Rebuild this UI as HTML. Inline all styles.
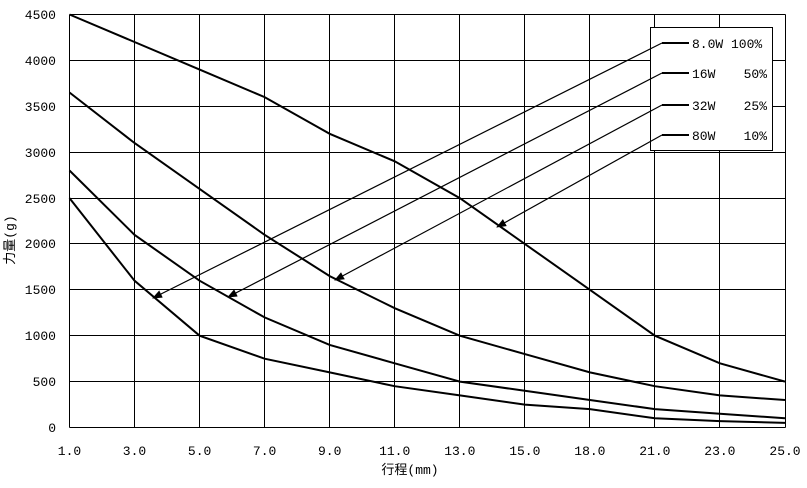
<!DOCTYPE html>
<html><head><meta charset="utf-8"><style>body{margin:0;background:#fff}svg{display:block}</style></head><body>
<svg width="807" height="488" xmlns="http://www.w3.org/2000/svg" font-family="Liberation Mono, 'Noto Sans CJK SC', monospace" font-size="13">
<defs><marker id="ah" markerWidth="10" markerHeight="8" refX="9" refY="4" orient="auto" markerUnits="userSpaceOnUse"><path d="M0,0 L10,4 L0,8 z" fill="#000"/></marker></defs>
<g stroke="#000" stroke-width="1" fill="none">
<line x1="69.5" y1="14.5" x2="69.5" y2="427.5"/><line x1="134.5" y1="14.5" x2="134.5" y2="427.5"/><line x1="199.5" y1="14.5" x2="199.5" y2="427.5"/><line x1="264.5" y1="14.5" x2="264.5" y2="427.5"/><line x1="329.5" y1="14.5" x2="329.5" y2="427.5"/><line x1="394.5" y1="14.5" x2="394.5" y2="427.5"/><line x1="459.5" y1="14.5" x2="459.5" y2="427.5"/><line x1="524.5" y1="14.5" x2="524.5" y2="427.5"/><line x1="589.5" y1="14.5" x2="589.5" y2="427.5"/><line x1="654.5" y1="14.5" x2="654.5" y2="427.5"/><line x1="719.5" y1="14.5" x2="719.5" y2="427.5"/><line x1="785.5" y1="14.5" x2="785.5" y2="427.5"/>
<line x1="69.5" y1="427.5" x2="785.5" y2="427.5"/><line x1="69.5" y1="381.5" x2="785.5" y2="381.5"/><line x1="69.5" y1="335.5" x2="785.5" y2="335.5"/><line x1="69.5" y1="289.5" x2="785.5" y2="289.5"/><line x1="69.5" y1="243.5" x2="785.5" y2="243.5"/><line x1="69.5" y1="198.5" x2="785.5" y2="198.5"/><line x1="69.5" y1="152.5" x2="785.5" y2="152.5"/><line x1="69.5" y1="106.5" x2="785.5" y2="106.5"/><line x1="69.5" y1="60.5" x2="785.5" y2="60.5"/><line x1="69.5" y1="14.5" x2="785.5" y2="14.5"/>
</g>
<g fill="#000" text-anchor="middle">
<text x="69.5" y="455">1.0</text><text x="134.5" y="455">3.0</text><text x="199.6" y="455">5.0</text><text x="264.6" y="455">7.0</text><text x="329.7" y="455">9.0</text><text x="394.7" y="455">11.0</text><text x="459.8" y="455">13.0</text><text x="524.8" y="455">15.0</text><text x="589.9" y="455">18.0</text><text x="654.9" y="455">21.0</text><text x="719.9" y="455">23.0</text><text x="785" y="455">25.0</text>
</g>
<g fill="#000" text-anchor="end">
<text x="56" y="432">0</text><text x="56" y="386">500</text><text x="56" y="340">1000</text><text x="56" y="294">1500</text><text x="56" y="248">2000</text><text x="56" y="203">2500</text><text x="56" y="157">3000</text><text x="56" y="111">3500</text><text x="56" y="65">4000</text><text x="56" y="19">4500</text>
</g>
<g stroke="#000" stroke-width="2" fill="none">
<polyline points="69.5,14.5 134.5,42.0 199.6,69.6 264.6,97.1 329.7,133.8 394.7,161.3 459.8,198.1 524.8,243.9 589.9,289.8 654.9,335.7 719.9,363.3 785,381.6"/>
<polyline points="69.5,92.5 134.5,143.0 199.6,188.9 264.6,234.8 329.7,276.1 394.7,308.2 459.8,335.7 524.8,354.1 589.9,372.4 654.9,386.2 719.9,395.4 785,400.0"/>
<polyline points="69.5,170.5 134.5,234.8 199.6,280.7 264.6,317.4 329.7,344.9 394.7,363.3 459.8,381.6 524.8,390.8 589.9,400.0 654.9,409.1 719.9,413.7 785,418.3"/>
<polyline points="69.5,198.1 134.5,280.7 199.6,335.7 264.6,358.7 329.7,372.4 394.7,386.2 459.8,395.4 524.8,404.6 589.9,409.1 654.9,418.3 719.9,421.1 785,422.9"/>
</g>
<rect x="650.5" y="27.5" width="122" height="123" fill="#fff" stroke="#000"/>
<g stroke="#000" stroke-width="2">
<line x1="662" y1="43" x2="689" y2="43"/><line x1="662" y1="73" x2="689" y2="73"/><line x1="662" y1="105" x2="689" y2="105"/><line x1="662" y1="135" x2="689" y2="135"/>
</g>
<g fill="#000">
<text x="692" y="48">8.0W 100%</text>
<text x="692" y="78">16W</text><text x="767" y="78" text-anchor="end">50%</text>
<text x="692" y="110">32W</text><text x="767" y="110" text-anchor="end">25%</text>
<text x="692" y="140">80W</text><text x="767" y="140" text-anchor="end">10%</text>
</g>
<g stroke="#000" stroke-width="1.2" marker-end="url(#ah)">
<line x1="662" y1="43" x2="153" y2="298"/>
<line x1="662" y1="73" x2="228" y2="297"/>
<line x1="662" y1="105" x2="335" y2="280"/>
<line x1="662" y1="135" x2="497" y2="227"/>
</g>
<text x="410" y="474" text-anchor="middle">行程(mm)</text>
<text transform="translate(14,240) rotate(-90)" text-anchor="middle">力量(g)</text>
</svg>
</body></html>
